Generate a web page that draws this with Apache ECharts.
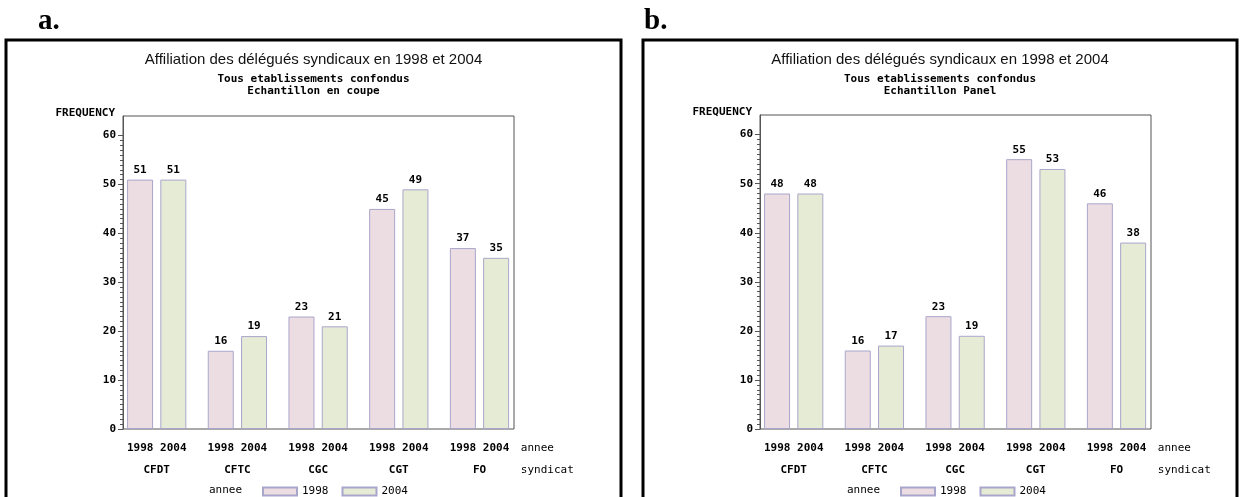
<!DOCTYPE html>
<html><head><meta charset="utf-8">
<script src="https://cdn.jsdelivr.net/npm/echarts@6/dist/echarts.min.js"></script>
<style>html,body{margin:0;padding:0;background:#fff}#c{width:1244px;height:497px}</style>
</head><body><div id="c"></div>
<script>
// ---- data ----
const syndicats = ['CFDT', 'CFTC', 'CGC', 'CGT', 'FO'];
const annees = ['1998', '2004'];
const coupe1998 = [51, 16, 23, 45, 37];
const coupe2004 = [51, 19, 21, 49, 35];
const panel1998 = [48, 16, 23, 55, 46];
const panel2004 = [48, 17, 19, 53, 38];
const yTickLabels = [0, 10, 20, 30, 40, 50, 60];
const mainTitle = 'Affiliation des délégués syndicaux en 1998 et 2004';
const subTitleA = 'Tous etablissements confondus\nEchantillon en coupe';
const subTitleB = 'Tous etablissements confondus\nEchantillon Panel';

// ---- styles ----
const MONO = '"DejaVu Sans Mono","Liberation Mono",monospace';
const PINK = '#ecdde2';
const GREEN = '#e6ebd6';
const EDGE = '#a9a6cb';
const AXIS = '#555';
const yMax = 64;
const minorVals = [];
for (let v = 0; v <= 60; v++) if (v % 10 !== 0) minorVals.push(v);

const chart = echarts.init(document.getElementById('c'), null, {renderer: 'canvas'});

const grids = [], xAxes = [], yAxes = [], series = [], legends = [], graphics = [];

function addPanel(cfg) {
  const H = 497;
  const gFrame = grids.length;
  grids.push({left: cfg.axisX, width: cfg.plotW, top: cfg.top, bottom: H - cfg.zeroY,
    show: true, borderColor: AXIS, borderWidth: 1, backgroundColor: 'transparent'});
  const gBars = grids.length;
  grids.push({left: cfg.barsLeft, width: cfg.barsW, top: cfg.top, bottom: H - cfg.zeroY, show: false});

  // frame grid axes
  const xFrame = xAxes.length;
  xAxes.push({type: 'value', gridIndex: gFrame, show: false, min: 0, max: 1});
  const yMain = yAxes.length;
  yAxes.push({
    type: 'value', gridIndex: gFrame, position: 'left', min: 0, max: yMax, interval: 10,
    name: 'FREQUENCY', nameLocation: 'end', nameGap: 3,
    nameTextStyle: {fontFamily: MONO, fontWeight: 'bold', fontSize: 11, color: '#000',
      align: 'right', verticalAlign: 'middle', padding: [0, 8, 0, 0]},
    axisLine: {show: true, lineStyle: {color: AXIS, width: 1}},
    axisTick: {show: true, length: 5, customValues: yTickLabels, lineStyle: {color: AXIS}},
    axisLabel: {show: true, customValues: yTickLabels, margin: 7, fontFamily: MONO,
      fontWeight: 'bold', fontSize: 11, color: '#000'},
    splitLine: {show: false}
  });
  const yMinor = yAxes.length;
  yAxes.push({
    type: 'value', gridIndex: gFrame, position: 'left', offset: 0, min: 0, max: yMax, interval: 10,
    axisLine: {show: false},
    axisTick: {show: true, length: 3, customValues: minorVals, lineStyle: {color: AXIS}},
    axisLabel: {show: false}, splitLine: {show: false}
  });
  series.push({type: 'line', xAxisIndex: xFrame, yAxisIndex: yMinor, data: [], silent: true});
  series.push({type: 'line', xAxisIndex: xFrame, yAxisIndex: yMain, data: [], silent: true});

  // bars grid axes
  const xBars = xAxes.length;
  xAxes.push({
    type: 'category', gridIndex: gBars, data: syndicats,
    axisLine: {show: false}, axisTick: {show: false},
    axisLabel: {
      interval: 0, margin: 8,
      formatter: v => '{y|' + annees.join(' ') + '}\n{s|' + v + '}',
      rich: {
        y: {fontFamily: MONO, fontWeight: 'bold', fontSize: 11, lineHeight: 22, color: '#000'},
        s: {fontFamily: MONO, fontWeight: 'bold', fontSize: 11, lineHeight: 22, color: '#000'}
      }
    },
    name: 'annee\nsyndicat', nameLocation: 'end', nameGap: 1,
    nameTextStyle: {fontFamily: MONO, fontSize: 11, color: '#000', align: 'left',
      verticalAlign: 'top', lineHeight: 22, padding: [8, 0, 0, 0]}
  });
  const yBars = yAxes.length;
  yAxes.push({type: 'value', gridIndex: gBars, min: 0, max: yMax, show: false, splitLine: {show: false}});

  const lbl = {show: true, position: 'top', distance: 4, fontFamily: MONO, fontWeight: 'bold',
    fontSize: 11, color: '#000'};
  series.push({type: 'bar', name: annees[0], xAxisIndex: xBars, yAxisIndex: yBars, data: cfg.d1,
    barWidth: 26, barGap: '28%', itemStyle: {color: PINK, borderColor: EDGE, borderWidth: 1}, label: lbl});
  series.push({type: 'bar', name: annees[1], xAxisIndex: xBars, yAxisIndex: yBars, data: cfg.d2,
    barWidth: 26, barGap: '28%', itemStyle: {color: GREEN, borderColor: EDGE, borderWidth: 1}, label: lbl});

  legends.push({
    data: annees, left: cfg.legendLeft, top: 486, padding: 0, itemWidth: 34, itemHeight: 8, itemGap: 13,
    icon: 'rect', selectedMode: false,
    textStyle: {fontFamily: MONO, fontSize: 11, color: '#000'}
  });

  graphics.push(
    {type: 'rect', silent: true, shape: {x: cfg.frameX, y: 40, width: cfg.frameW, height: 500},
      style: {fill: 'none', stroke: '#000', lineWidth: 3}},
    {type: 'text', silent: true, style: {text: cfg.tag, x: cfg.tagX, y: 22, textAlign: 'left',
      textVerticalAlign: 'middle', font: 'bold 29px "Liberation Serif","Times New Roman",serif', fill: '#000'}},
    {type: 'text', silent: true, style: {text: mainTitle, x: cfg.frameX + cfg.frameW / 2, y: 60,
      textAlign: 'center', textVerticalAlign: 'middle', font: '15px "Liberation Sans",Arial,sans-serif', fill: '#111'}},
    {type: 'text', silent: true, style: {text: cfg.sub, x: cfg.frameX + cfg.frameW / 2, y: 73,
      textAlign: 'center', textVerticalAlign: 'top', lineHeight: 12,
      font: 'bold 11px ' + MONO, fill: '#000'}},
    {type: 'text', silent: true, style: {text: 'annee', x: cfg.anneeX, y: 490.5, textAlign: 'left',
      textVerticalAlign: 'middle', font: '11px ' + MONO, fill: '#000'}}
  );
}

addPanel({axisX: 123, plotW: 391, top: 116, zeroY: 429, barsLeft: 116.35, barsW: 403.5,
  d1: coupe1998, d2: coupe2004, legendLeft: 262, anneeX: 209, frameX: 6, frameW: 615,
  tag: 'a.', tagX: 38, sub: subTitleA});
addPanel({axisX: 760, plotW: 391, top: 115, zeroY: 429, barsLeft: 753.35, barsW: 403.5,
  d1: panel1998, d2: panel2004, legendLeft: 900, anneeX: 847, frameX: 643, frameW: 594,
  tag: 'b.', tagX: 644, sub: subTitleB});

chart.setOption({
  animation: false,
  backgroundColor: '#fff',
  grid: grids, xAxis: xAxes, yAxis: yAxes, series: series, legend: legends,
  graphic: {elements: graphics}
});
</script></body></html>
